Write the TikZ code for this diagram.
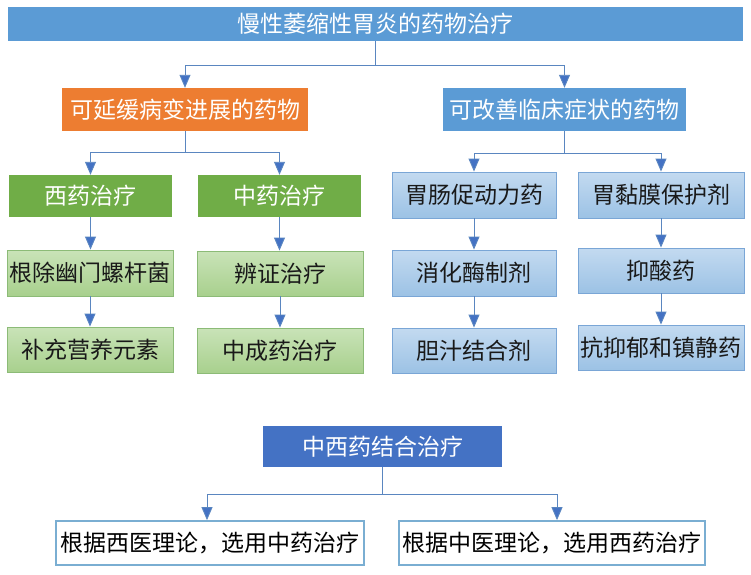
\documentclass[tikz,border=0pt]{standalone}
\usepackage{fontspec}
\setmainfont{Noto Sans CJK SC}
\usetikzlibrary{arrows.meta}
\definecolor{hblue}{HTML}{5B9BD5}
\definecolor{horange}{HTML}{ED7D31}
\definecolor{hgreen}{HTML}{70AD47}
\definecolor{dblue}{HTML}{4472C4}
\definecolor{lgtop}{HTML}{C9E3B8}
\definecolor{lgbot}{HTML}{A8D08D}
\definecolor{lgline}{HTML}{8CBB77}
\definecolor{lbtop}{HTML}{C3DAF0}
\definecolor{lbbot}{HTML}{9CC2E5}
\definecolor{lbline}{HTML}{7AA6D6}
\definecolor{wbline}{HTML}{7AAED2}
\definecolor{conn}{HTML}{5A86C0}
\begin{document}
\begin{tikzpicture}[x=1pt,y=-1pt,
  base/.style={inner sep=0pt,font=\fontsize{23pt}{26pt}\selectfont},
  headbox/.style={base,fill=#1,text=white},
  greenbox/.style={base,top color=lgtop,bottom color=lgbot,draw=lgline,line width=0.9pt,text=black!90},
  bluebox/.style={base,top color=lbtop,bottom color=lbbot,draw=lbline,line width=0.9pt,text=black!90},
  whitebox/.style={base,fill=white,draw=wbline,line width=1.8pt,text=black},
  conn/.style={draw=conn,line width=0.9pt},
  arr/.style={conn,-{Triangle[width=11pt,length=13pt,fill=dblue]}}
]
\useasboundingbox (0,0) rectangle (751,574);
\fill[white] (0,0) rectangle (751,574);

\node[headbox=hblue,minimum width=735pt,minimum height=34pt] (top) at (375.5,24) {慢性萎缩性胃炎的药物治疗};
\node[headbox=horange,minimum width=246pt,minimum height=43pt] (slow) at (185,109.5) {可延缓病变进展的药物};
\node[headbox=hblue,minimum width=243pt,minimum height=43pt] (improve) at (564.5,109.5) {可改善临床症状的药物};

\node[headbox=hgreen,minimum width=163pt,minimum height=42pt] (west) at (90.5,196) {西药治疗};
\node[headbox=hgreen,minimum width=163pt,minimum height=42pt] (chn) at (279.5,196) {中药治疗};

\node[greenbox,minimum width=166pt,minimum height=46pt] (hp) at (90,273) {根除幽门螺杆菌};
\node[greenbox,minimum width=166pt,minimum height=45pt] (nutri) at (90,349.5) {补充营养元素};
\node[greenbox,minimum width=166pt,minimum height=45pt] (bz) at (280,273.5) {辨证治疗};
\node[greenbox,minimum width=166pt,minimum height=45pt] (zcy) at (280,350.5) {中成药治疗};

\node[bluebox,minimum width=164pt,minimum height=46pt] (gc) at (474,195) {胃肠促动力药};
\node[bluebox,minimum width=164pt,minimum height=46pt] (xh) at (474,273) {消化酶制剂};
\node[bluebox,minimum width=164pt,minimum height=45pt] (dz) at (474,350.5) {胆汁结合剂};
\node[bluebox,minimum width=166pt,minimum height=46pt] (wn) at (661,195) {胃黏膜保护剂};
\node[bluebox,minimum width=166pt,minimum height=45pt] (ys) at (661,270.5) {抑酸药};
\node[bluebox,minimum width=166pt,minimum height=45pt] (ky) at (661,347.5) {抗抑郁和镇静药};

\node[headbox=dblue,minimum width=239pt,minimum height=41pt] (comb) at (382.5,446.5) {中西药结合治疗};
\node[whitebox,minimum width=308pt,minimum height=44pt] (bl) at (210,543) {根据西医理论，选用中药治疗};
\node[whitebox,minimum width=306pt,minimum height=44pt] (br) at (552,543) {根据中医理论，选用西药治疗};

% top level
\draw[conn] (top.south) -- (top.south |- 0,65);
\draw[arr] (top.south |- 0,65) -| (slow.north);
\draw[arr] (top.south |- 0,65) -| (improve.north);
% left branch
\draw[conn] (slow.south) -- (slow.south |- 0,152);
\draw[arr] (slow.south |- 0,152) -| (west.north);
\draw[arr] (slow.south |- 0,152) -| (chn.north);
% right branch
\draw[conn] (improve.south) -- (improve.south |- 0,153);
\draw[arr] (improve.south |- 0,153) -| (gc.north);
\draw[arr] (improve.south |- 0,153) -| (wn.north);
% chains
\draw[arr] (west.south) -- (west.south |- hp.north);
\draw[arr] (hp.south) -- (hp.south |- nutri.north);
\draw[arr] (chn.south) -- (chn.south |- bz.north);
\draw[arr] (bz.south) -- (bz.south |- zcy.north);
\draw[arr] (gc.south) -- (gc.south |- xh.north);
\draw[arr] (xh.south) -- (xh.south |- dz.north);
\draw[arr] (wn.south) -- (wn.south |- ys.north);
\draw[arr] (ys.south) -- (ys.south |- ky.north);
% bottom
\draw[conn] (comb.south) -- (comb.south |- 0,494);
\draw[arr] (comb.south |- 0,494) -| ([xshift=-3pt]bl.north);
\draw[arr] (comb.south |- 0,494) -| ([xshift=5pt]br.north);
\end{tikzpicture}
\end{document}
